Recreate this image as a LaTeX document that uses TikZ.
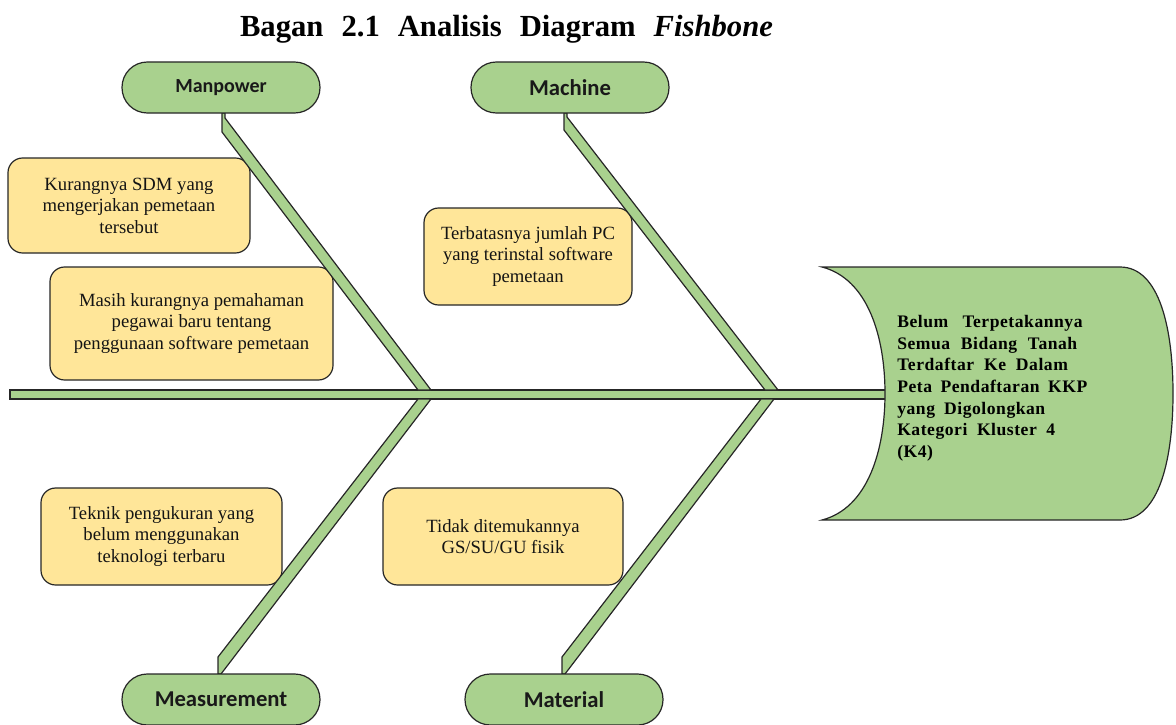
\documentclass[tikz,border=0pt]{standalone}
\usepackage{fontspec}
\setmainfont{Liberation Serif}
\newfontfamily\labelfont{Carlito}
\newfontfamily\headfont[LetterSpace=3]{Liberation Serif}
\definecolor{bonegreen}{HTML}{A9D18E}
\definecolor{boxyellow}{HTML}{FFE699}
\definecolor{edgecol}{HTML}{262626}
\begin{document}
\begin{tikzpicture}[x=0.75pt,y=-0.75pt,
  pill/.style={draw=edgecol, line width=0.9pt, fill=bonegreen, rounded corners=19pt,
    minimum width=148.5pt, minimum height=38.25pt, inner sep=0pt,
    font=\labelfont\bfseries\fontsize{17}{20}\selectfont, text=black!90},
  causebox/.style={draw=edgecol, line width=0.9pt, fill=boxyellow, rounded corners=11pt,
    inner sep=0pt, align=center, font=\fontsize{14}{16.1}\selectfont, text=black!92},
  bone/.style={draw=edgecol, line width=0.9pt, fill=bonegreen, line join=miter}]
\useasboundingbox (0,0) rectangle (1176,724);

% title
\node[anchor=base, inner sep=0pt, font=\bfseries\fontsize{23}{27}\selectfont] (title) at (506.5,37)
  {Bagan\hspace{13.5pt}2.1\hspace{13.5pt}Analisis\hspace{13.5pt}Diagram\hspace{13.5pt}\textit{Fishbone}};

% cause boxes
\node[causebox, minimum width=181.5pt, minimum height=71.25pt] (kur) at (129,205.5)
  {Kurangnya SDM yang\\ mengerjakan pemetaan\\ tersebut};
\node[causebox, minimum width=212.25pt, minimum height=84.75pt] (mas) at (191.5,323.5)
  {Masih kurangnya pemahaman\\ pegawai baru tentang\\ penggunaan software pemetaan};
\node[causebox, minimum width=156pt, minimum height=72.75pt] (ter) at (528,256.5)
  {Terbatasnya jumlah PC\\ yang terinstal software\\ pemetaan};
\node[causebox, minimum width=180.75pt, minimum height=72.75pt] (tek) at (161.5,536.5)
  {Teknik pengukuran yang\\ belum menggunakan\\ teknologi terbaru};
\node[causebox, minimum width=180pt, minimum height=72.75pt] (tid) at (503,536.5)
  {Tidak ditemukannya\\ GS/SU/GU fisik};

% spine
\draw[bone] (10,390) rectangle (888,399);

% bones
\draw[bone] (222,113) -- (225,113) -- (225,118) -- (431,390) -- (418,390) -- (222,132) -- cycle;
\draw[bone] (564,113) -- (567,113) -- (567,117) -- (778,390) -- (765,390) -- (564,130) -- cycle;
\draw[bone] (218,674) -- (221,674) -- (431,399) -- (418,399) -- (218,657) -- cycle;
\draw[bone] (562,674) -- (565,674) -- (774,399) -- (761,399) -- (562,657) -- cycle;

% head
\draw[bone] (822,267) -- (1120,267) .. controls (1160,267) and (1173,330) .. (1173,393.5)
  .. controls (1173,457) and (1160,520) .. (1120,520) -- (822,520)
  .. controls (868,508) and (885,450) .. (885,393.5)
  .. controls (885,337) and (868,279) .. (822,267) -- cycle;
\node[anchor=north west, inner sep=0pt, align=left, text=black,
  font=\headfont\bfseries\fontsize{13.2}{16.25}\selectfont] (headtxt) at (897,315)
  {\makebox[139pt][s]{Belum Terpetakannya}\\
   \makebox[135pt][s]{Semua Bidang Tanah}\\
   \makebox[128pt][s]{Terdaftar Ke Dalam}\\
   \makebox[142.5pt][s]{Peta Pendaftaran KKP}\\
   \makebox[111pt][s]{yang Digolongkan}\\
   \makebox[118.5pt][s]{Kategori Kluster 4}\\
   (K4)};

% category pills
\node[pill, font=\labelfont\bfseries\fontsize{15}{18}\selectfont] (manpower) at (221,87.5) {Manpower};
\node[pill] (machine) at (570,87.5) {Machine};
\node[pill] (measurement) at (221,699.5) {Measurement};
\node[pill] (material) at (564,699.5) {Material};
\end{tikzpicture}
\end{document}
